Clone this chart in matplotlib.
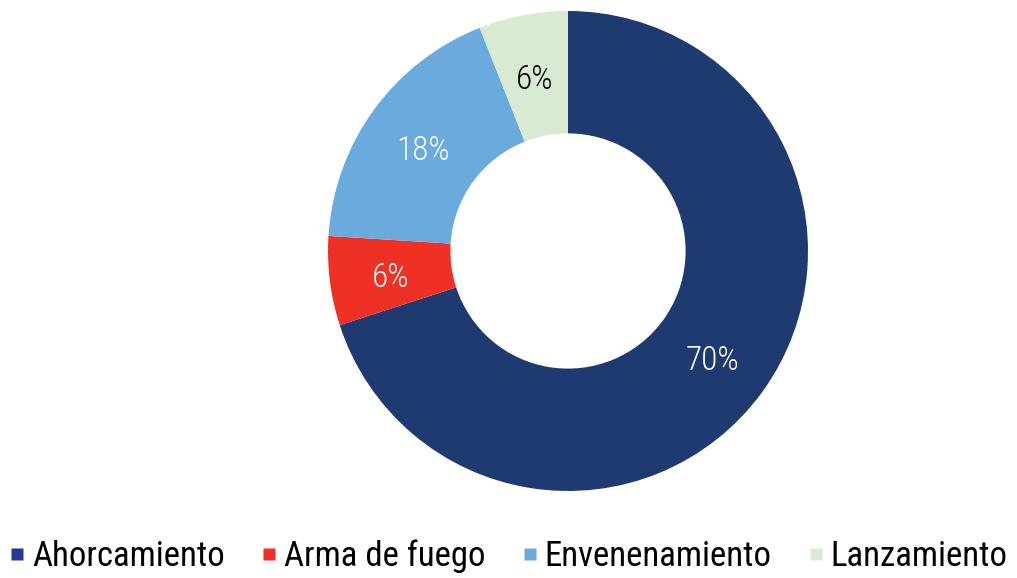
import matplotlib
matplotlib.use("Agg")
import matplotlib.pyplot as plt
from matplotlib import font_manager
from matplotlib.lines import Line2D

# data
categories = ['Ahorcamiento', 'Arma de fuego', 'Envenenamiento', 'Lanzamiento']
shares = [70, 6, 18, 6]
colors = ['#1e3a70', '#ee3124', '#6aaadc', '#d8ead2']
legend_colors = ['#233b8f', '#ee3124', '#6aaadc', '#d8ead2']
label_colors = ['white', 'white', 'white', 'black']

# pick a narrow-ish font if one is there
names = {f.name for f in font_manager.fontManager.ttflist}
font = 'Open Sans'
for cand in ['Roboto Condensed', 'Liberation Sans Narrow', 'Roboto']:
    if cand in names:
        font = cand
        break
plt.rcParams['font.family'] = [font, 'DejaVu Sans']

fig = plt.figure(figsize=(10.17, 5.78), dpi=100)
ax = fig.add_axes([328 / 1017, 87 / 578, 480 / 1017, 480 / 578])

wedges, texts, autotexts = ax.pie(
    shares, colors=colors, startangle=90, counterclock=False,
    wedgeprops=dict(width=0.51, edgecolor='none'),
    autopct='%d%%', pctdistance=0.745,
    textprops=dict(fontsize=24, fontweight='light'))
for t, c in zip(autotexts, label_colors):
    t.set_color(c)
    x, y = t.get_position()
    t.set_position((x, y - 0.02))
ax.set_xlim(-1, 1)
ax.set_ylim(-1, 1)
ax.set_aspect('auto')
ax.axis('off')

handles = [Line2D([], [], marker='s', linestyle='none', markersize=9,
                  markerfacecolor=c, markeredgecolor='none') for c in legend_colors]
fig.legend(handles, categories, loc='lower center', ncol=4, frameon=False,
           fontsize=25, handlelength=0.45, handletextpad=0.2, columnspacing=1.05,
           bbox_to_anchor=(0.5, -0.045))

fig.savefig('out.png', dpi=100)
